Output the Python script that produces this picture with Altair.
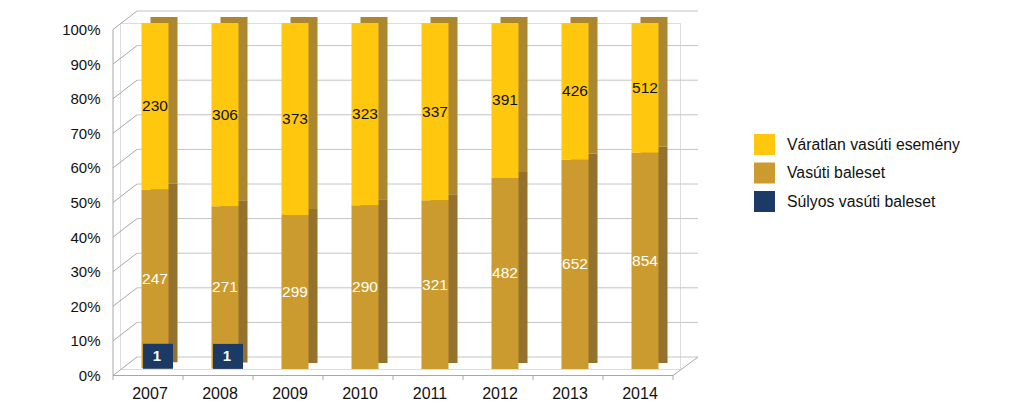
import altair as alt
import pandas as pd

years = ["2007", "2008", "2009", "2010", "2011", "2012", "2013", "2014"]
sulyos = [1, 1, 0, 0, 0, 0, 0, 0]
vasuti = [247, 271, 299, 290, 321, 482, 652, 854]
varatlan = [230, 306, 373, 323, 337, 391, 426, 512]
tick_values = [i / 10 for i in range(11)]

series_names = ["Súlyos vasúti baleset", "Vasúti baleset", "Váratlan vasúti esemény"]
front_colors = ["#1B3A66", "#CC9B2F", "#FFC80E"]
side_colors = ["#10284A", "#94712C", "#AD872F"]
label_colors = ["#FFFFFF", "#FFFFFF", "#111111"]

rows = []
for i, y in enumerate(years):
    vals = [sulyos[i], vasuti[i], varatlan[i]]
    tot = sum(vals)
    cum = 0.0
    for k, (name, v) in enumerate(zip(series_names, vals)):
        y0 = cum / tot
        cum += v
        y1 = cum / tot
        rows.append({"year": y, "series": name, "value": v, "order": k,
                     "y0": y0, "y1": y1, "mid": (y0 + y1) / 2,
                     "label": str(v) if v > 0 else ""})
df = pd.DataFrame(rows)
grid_df = pd.DataFrame({"v": tick_values})
floor_df = pd.DataFrame({"lo": [0.0], "hi": [1.0]})
year_df = pd.DataFrame({"year": years})

W, H = 560, 346
FONT = "Liberation Sans"
GRID = "#a8a8a8"

legend_order = ["Váratlan vasúti esemény", "Vasúti baleset", "Súlyos vasúti baleset"]
color_scale = alt.Scale(domain=legend_order, range=[front_colors[2], front_colors[1], front_colors[0]])
side_scale = alt.Scale(domain=legend_order, range=[side_colors[2], side_colors[1], side_colors[0]])
y_scale = alt.Scale(domain=[0, 1], nice=False, zero=True)

x_axis = alt.Axis(labelAngle=0, labelFontSize=16, labelColor="#111", labelPadding=16,
                  labelOffset=-5, domain=False, ticks=False, grid=False, labelFont=FONT)
y_axis = alt.Axis(format="%", values=tick_values, labelFontSize=15, labelOverlap=False,
                  labelColor="#111", domain=False, ticks=False, grid=False, labelPadding=20,
                  labelOffset=6.5, labelFont=FONT)
x_scale = alt.Scale(domain=years, paddingInner=0.614, paddingOuter=0.307)


def X():
    return alt.X("year:N", sort=years, title=None, scale=x_scale, axis=x_axis)


def Y(field):
    return alt.Y(field, scale=y_scale, axis=y_axis, title=None)


# left wall diagonals
left_wall = alt.Chart(grid_df).mark_rule(color=GRID, strokeWidth=1, yOffset=6.5, y2Offset=-12).encode(
    x=alt.value(-7), x2=alt.value(17), y=Y("v:Q"), y2="v:Q")
# back wall gridlines
back_grid = alt.Chart(grid_df).mark_rule(color="#c4c4c4", strokeWidth=1, yOffset=-12, y2Offset=-12).encode(
    x=alt.value(17), x2=alt.value(W + 18), y=Y("v:Q"), y2="v:Q")
# front vertical axis line
front_axis = alt.Chart(floor_df).mark_rule(color=GRID, strokeWidth=1, yOffset=6.5, y2Offset=6.5).encode(
    x=alt.value(-7), y=Y("hi:Q"), y2="lo:Q")
# floor front edge
floor_front = alt.Chart(floor_df).mark_rule(color=GRID, strokeWidth=1, yOffset=6.5, y2Offset=6.5).encode(
    x=alt.value(-7), x2=alt.value(W - 7), y=Y("lo:Q"), y2="lo:Q")
# floor right edge
floor_right = alt.Chart(floor_df).mark_rule(color=GRID, strokeWidth=1, yOffset=6.5, y2Offset=-12).encode(
    x=alt.value(W - 7), x2=alt.value(W + 18), y=Y("lo:Q"), y2="lo:Q")
# x ticks at category boundaries
x_ticks = alt.Chart(year_df).mark_rule(color=GRID, strokeWidth=1, xOffset=-42).encode(
    x=X(), y=alt.value(H + 6.5), y2=alt.value(H + 11))
end_tick = alt.Chart(floor_df).mark_rule(color=GRID, strokeWidth=1).encode(
    x=alt.value(W - 7), y=alt.value(H + 6.5), y2=alt.value(H + 11))

bars_df = df[(df["value"] > 0) & (df["order"] > 0)]

side = alt.Chart(bars_df).mark_bar(xOffset=9, x2Offset=9, yOffset=-6, y2Offset=-6).encode(
    x=X(), y=Y("y1:Q"), y2="y0:Q",
    color=alt.Color("series:N", scale=side_scale, legend=None),
)

front = alt.Chart(bars_df).mark_bar().encode(
    x=X(), y=Y("y1:Q"), y2="y0:Q",
    color=alt.Color("series:N", scale=color_scale,
                    legend=alt.Legend(title=None, orient="none", legendX=634, legendY=111,
                                      symbolType="square", symbolSize=440, symbolStrokeWidth=0,
                                      labelFontSize=15.8, labelColor="#111", rowPadding=7.5,
                                      labelFont=FONT, labelOffset=12, labelLimit=400)),
    order="order:Q",
)

labels_main = alt.Chart(df[df["order"] > 0]).mark_text(fontSize=15.5, font=FONT).encode(
    x=X(), y=Y("mid:Q"), text="label:N",
    color=alt.Color("series:N", scale=alt.Scale(domain=series_names, range=label_colors), legend=None),
)

box_df = df[(df["order"] == 0) & (df["value"] > 0)]
boxes = alt.Chart(box_df).mark_point(
    shape="M-1.2,-1H1.2V1H-1.2Z", size=625, filled=True, color="#1B3A66", opacity=1,
    yOffset=-12, xOffset=3).encode(x=X(), y=Y("y1:Q"))
box_text = alt.Chart(box_df).mark_text(fontSize=15, fontWeight="bold", color="white",
                                       yOffset=-12, xOffset=2, font=FONT).encode(
    x=X(), y=Y("y1:Q"), text="label:N")

chart = alt.layer(
    left_wall, back_grid, front_axis, floor_front, floor_right, x_ticks, end_tick,
    side, front, labels_main, boxes, box_text
).resolve_scale(color="independent").properties(
    width=W, height=H,
    autosize=alt.AutoSizeParams(type="none"),
    padding={"left": 120, "top": 23, "right": 1024 - 120 - W, "bottom": 415 - 23 - H},
).configure_view(stroke=None).configure(background="white")

chart.save("out.html", embed_options={"renderer": "svg", "actions": False})
